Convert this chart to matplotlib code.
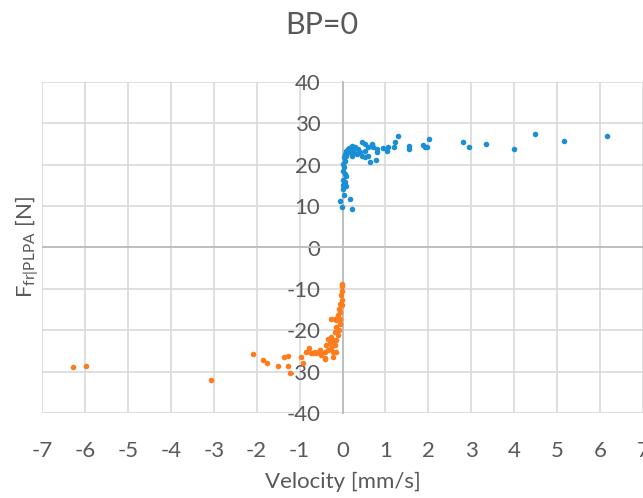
import matplotlib
matplotlib.use("Agg")
import matplotlib.pyplot as plt

# positive velocity branch (blue)
blue_x = [0.45, 0.52, 0.60, 0.68, 0.72, 0.81, 0.81, 0.60, 0.78, 0.64, 0.52, 0.41,
          0.37, 0.29, 0.25, 0.17, 0.21, 0.13, 0.09, 0.33, 0.45, 0.52,
          0.95, 1.07, 1.03, 1.19, 1.23, 1.30, 1.55, 1.55, 1.88, 1.93, 1.97, 2.02,
          2.81, 2.94, 3.34, 4.00, 4.49, 5.16, 6.17,
          0.05, 0.04, 0.05, 0.02, 0.04, 0.02, 0.05, 0.09, 0.02, 0.05, 0.02, 0.09,
          0.00, 0.04, 0.17, -0.05, -0.02, 0.21,
          0.07, 0.11, 0.15, 0.23, 0.19, 0.27]
blue_y = [25.4, 24.9, 24.4, 25.0, 24.2, 23.8, 23.2, 22.2, 21.2, 20.6, 23.4, 23.0,
          23.8, 24.2, 23.4, 23.0, 22.2, 23.8, 23.4, 22.6, 22.0, 21.8,
          24.0, 24.2, 23.3, 24.4, 25.6, 27.0, 24.6, 23.8, 24.8, 24.2, 24.4, 26.2,
          25.5, 24.2, 25.0, 23.7, 27.4, 25.8, 26.9,
          22.6, 21.8, 21.0, 20.2, 19.4, 18.6, 17.8, 17.2, 16.2, 15.8, 15.0, 14.8,
          14.2, 12.6, 11.8, 11.3, 9.8, 9.4,
          22.0, 22.8, 24.0, 24.6, 23.6, 22.8]

# negative velocity branch (orange)
orange_x = [-0.02, -0.02, -0.02, -0.04, -0.02, -0.06, -0.02, -0.08, -0.05, -0.10,
            -0.06, -0.14, -0.26, -0.18, -0.06, -0.14, -0.08, -0.18, -0.10, -0.26,
            -0.22, -0.34, -0.14, -0.30, -0.375, -0.18, -0.26, -0.34, -0.22, -0.16,
            -0.41, -0.22, -0.41, -0.53, -0.61, -0.50, -0.77, -0.84, -0.69, -0.96,
            -0.92, -2.09, -1.86, -1.76, -1.51, -1.37, -1.27, -1.27, -1.22, -0.73,
            -0.65, -0.52, -0.41, -3.07, -6.27, -5.98]
orange_y = [-8.8, -9.2, -10.4, -11.6, -12.8, -13.6, -14.0, -14.8, -15.6, -16.4,
            -17.2, -17.6, -17.2, -17.2, -18.4, -19.2, -20.0, -20.4, -21.2, -21.6,
            -22.4, -22.0, -22.4, -23.2, -23.6, -23.6, -24.4, -24.8, -25.2, -25.2,
            -25.2, -26.4, -27.0, -24.8, -25.6, -26.0, -24.4, -25.2, -25.6, -26.4,
            -28.0, -25.8, -27.2, -27.8, -28.6, -26.4, -26.2, -28.6, -30.4, -25.6,
            -25.2, -25.2, -26.8, -32.0, -29.0, -28.6]

xticks = list(range(-7, 8))
yticks = list(range(-40, 41, 10))

plt.rcParams['font.family'] = ['Lato', 'DejaVu Sans']
plt.rcParams['mathtext.default'] = 'regular'
plt.rcParams['axes.unicode_minus'] = False
txt = '#595959'

fig = plt.figure(figsize=(6.43, 4.98), dpi=100)
ax = fig.add_axes([42 / 643, 1 - 413 / 498, 601 / 643, 331 / 498])

ax.scatter(blue_x, blue_y, s=16, color='#1B8FD6', zorder=3, linewidths=0)
ax.scatter(orange_x, orange_y, s=16, color='#FF7B1C', zorder=3, linewidths=0)

ax.set_xlim(-7, 7)
ax.set_ylim(-40, 40)
ax.set_xticks(xticks)
ax.set_yticks(yticks)
ax.set_axisbelow(True)
ax.grid(True, color='#d9d9d9', linewidth=1.2)

for s in ['top', 'right', 'bottom']:
    ax.spines[s].set_visible(False)
ax.spines['left'].set_position(('data', 0))
ax.spines['left'].set_color('#bfbfbf')
ax.spines['left'].set_linewidth(1.4)
ax.axhline(0, color='#bfbfbf', linewidth=1.4, zorder=1)

ax.tick_params(axis='y', length=0, pad=16, labelsize=16, labelcolor=txt)
ax.tick_params(axis='x', length=0, pad=20, labelsize=16, labelcolor=txt)

ax.set_xlabel('Velocity [mm/s]', fontsize=16, color=txt, labelpad=8)
ax.set_ylabel(r'$F_{fr|PLPA}$ [N]', fontsize=16, color=txt)
ax.yaxis.set_label_coords(-0.002, 0.5)
fig.text(0.5, 1 - 25 / 498, 'BP=0', ha='center', va='center', fontsize=22, color=txt)

fig.savefig('out.png', dpi=100)
